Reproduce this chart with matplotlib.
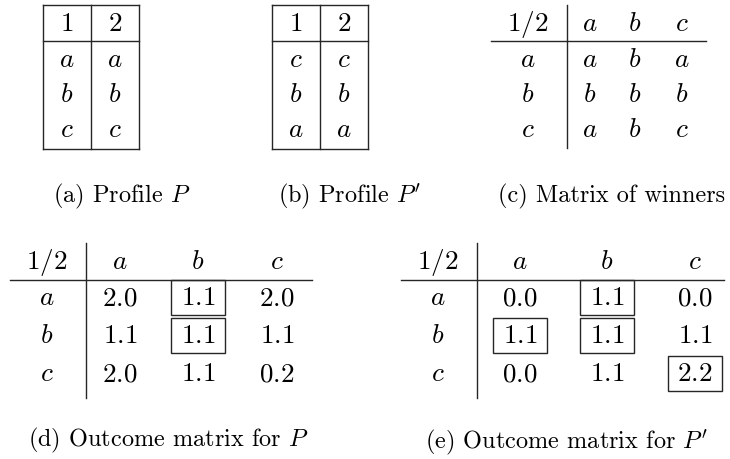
import matplotlib
matplotlib.use('Agg')
import matplotlib.pyplot as plt
from matplotlib.patches import Rectangle

plt.rcParams['mathtext.fontset'] = 'cm'
plt.rcParams['font.family'] = 'cmr10'
plt.rcParams['axes.formatter.use_mathtext'] = True

#data for each panel
alts = ['a', 'b', 'c']
voters = ['1', '2']
profile_P = [['a', 'a'], ['b', 'b'], ['c', 'c']]
profile_Pp = [['c', 'c'], ['b', 'b'], ['a', 'a']]
winners = [['a', 'b', 'a'], ['b', 'b', 'b'], ['a', 'b', 'c']]
outcome_P = [[2.0, 1.1, 2.0], [1.1, 1.1, 1.1], [2.0, 1.1, 0.2]]
boxed_P = [[0, 1, 0], [0, 1, 0], [0, 0, 0]]
outcome_Pp = [[0.0, 1.1, 0.0], [1.1, 1.1, 1.1], [0.0, 1.1, 2.2]]
boxed_Pp = [[0, 1, 0], [1, 1, 0], [0, 0, 1]]
captions = ['(a) Profile $P$', "(b) Profile $P'$", '(c) Matrix of winners',
            '(d) Outcome matrix for $P$', "(e) Outcome matrix for $P'$"]

FS = 19.5
LC = '#262626'
LW = 1.0

fig = plt.figure(figsize=(7.3, 4.59), dpi=100)
ax = fig.add_axes([0, 0, 1, 1])
ax.set_xlim(0, 730)
ax.set_ylim(459, 0)
ax.axis('off')


def txt(x, y, s, size=FS):
    ax.text(x, y, s, ha='center', va='baseline', fontsize=size)


#profile table with full grid
def draw_profile(left, prof, colw=48, top=5, head=41, bottom=149,
                 head_base=31, row_base=(67, 102, 137)):
    right = left + colw * len(voters)
    for y in (top, head, bottom):
        ax.plot([left, right], [y, y], color=LC, lw=LW)
    for k in range(len(voters) + 1):
        x = left + k * colw
        ax.plot([x, x], [top, bottom], color=LC, lw=LW)
    for j, v in enumerate(voters):
        xc = left + (j + 0.5) * colw
        txt(xc, head_base, '$%s$' % v)
        for i in range(len(prof)):
            txt(xc, row_base[i], '$%s$' % prof[i][j])


#matrix table with 1/2 corner, vertical and horizontal rule
def draw_matrix(lab_x, vline_x, cols, hx, hy, vy, head_base, row_base,
                cells, boxed=None, boxw=54, box_up=25, box_down=10):
    ax.plot(hx, [hy, hy], color=LC, lw=LW)
    ax.plot([vline_x, vline_x], vy, color=LC, lw=LW)
    txt(lab_x, head_base, '$1/2$')
    for j, a in enumerate(alts):
        txt(cols[j], head_base, '$%s$' % a)
    for i, a in enumerate(alts):
        txt(lab_x, row_base[i], '$%s$' % a)
        for j in range(len(alts)):
            v = cells[i][j]
            s = '$%s$' % v if isinstance(v, str) else '$%.1f$' % v
            txt(cols[j], row_base[i], s)
            if boxed is not None and boxed[i][j]:
                ax.add_patch(Rectangle((cols[j] - boxw / 2, row_base[i] - box_up),
                                       boxw, box_up + box_down, fill=False,
                                       edgecolor=LC, lw=LW))


draw_profile(43, profile_P)
draw_profile(272, profile_Pp)
draw_matrix(528, 567, [590, 635, 682], [491, 706], 41, [5, 148], 31,
            [67, 102, 137], winners)
draw_matrix(47, 86, [120, 198, 277], [10, 312], 280, [243, 398], 269,
            [305, 343, 381], outcome_P, boxed_P)
draw_matrix(438, 477, [520, 607, 695], [401, 724], 280, [243, 398], 269,
            [305, 343, 381], outcome_Pp, boxed_Pp)

#captions
cap_pos = [(122, 202), (350, 202), (612, 202), (168, 446), (566, 448)]
for (x, y), c in zip(cap_pos, captions):
    txt(x, y, c, size=17.5)

fig.savefig('out.png', dpi=100)
